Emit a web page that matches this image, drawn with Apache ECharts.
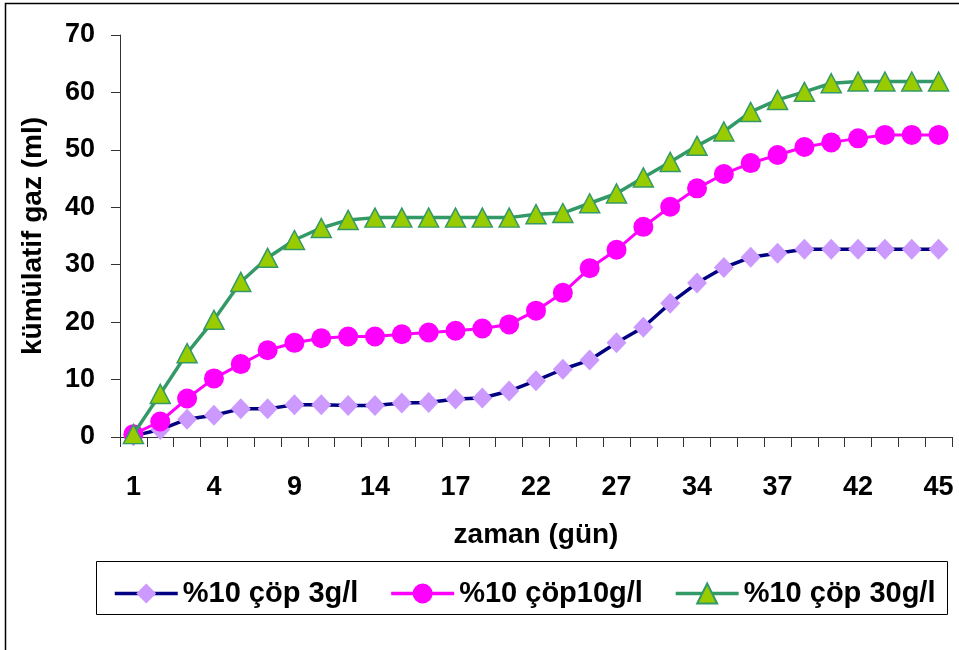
<!DOCTYPE html>
<html>
<head>
<meta charset="utf-8">
<script src="https://cdn.jsdelivr.net/npm/echarts@6/dist/echarts.min.js"></script>
<style>html,body{margin:0;padding:0;background:#fff;}#c{width:959px;height:650px;}</style>
</head>
<body>
<div id="c"></div>
<script>
const days = ['1','2','3','4','6','7','9','11','12','14','15','16','17','19','20','22','23','25','27','29','31','34','35','36','37','39','40','42','43','44','45'];
const s3 = [0.2,1.3,3.1,3.8,4.9,4.9,5.6,5.6,5.5,5.5,5.9,6.0,6.6,6.8,8.0,9.8,11.8,13.4,16.4,19.1,23.3,26.8,29.5,31.3,32.0,32.7,32.7,32.7,32.7,32.7,32.7];
const s10 = [0.5,2.7,6.7,10.2,12.7,15.1,16.4,17.2,17.5,17.5,17.9,18.2,18.5,18.9,19.6,22.0,25.1,29.4,32.6,36.6,40.1,43.3,45.8,47.7,49.1,50.5,51.3,52.0,52.6,52.6,52.6];
const s30 = [0.5,7.5,14.6,20.4,27.0,31.2,34.3,36.4,37.8,38.2,38.2,38.2,38.2,38.2,38.2,38.8,39.0,40.7,42.4,45.2,47.9,50.7,53.2,56.6,58.7,60.1,61.6,61.9,61.9,61.9,61.9];
const seriesNames = ['%10 çöp 3g/l','%10 çöp10g/l','%10 çöp 30g/l'];

const FONT = '"Liberation Sans", Arial, sans-serif';
const chart = echarts.init(document.getElementById('c'), null, {renderer:'canvas'});
chart.setOption({
  animation:false,
  backgroundColor:'#fff',
  grid:{left:120,right:7,top:35,bottom:213,containLabel:false},
  xAxis:{
    type:'category', data:days, boundaryGap:true,
    name:'zaman (gün)', nameLocation:'middle', nameGap:84,
    nameTextStyle:{fontFamily:FONT,fontWeight:'bold',fontSize:28,color:'#000'},
    axisLine:{lineStyle:{color:'#333',width:1}},
    axisTick:{show:true,interval:0,length:10,inside:false,lineStyle:{color:'#333'}},
    axisLabel:{interval:2,margin:37,fontFamily:FONT,fontWeight:'bold',fontSize:27,color:'#000'},
    splitLine:{show:false}
  },
  yAxis:{
    type:'value', min:0, max:70, interval:10,
    name:'kümülatif gaz (ml)', nameLocation:'middle', nameGap:73,
    nameTextStyle:{fontFamily:FONT,fontWeight:'bold',fontSize:28,color:'#000'},
    axisLine:{show:true,lineStyle:{color:'#333',width:1}},
    axisTick:{show:true,length:9,lineStyle:{color:'#333'}},
    axisLabel:{margin:25,fontFamily:FONT,fontWeight:'bold',fontSize:27,color:'#000'},
    splitLine:{show:false}
  },
  legend:{
    left:108, top:574, itemWidth:63, itemHeight:25, itemGap:31,
    lineStyle:{width:3.5},
    textStyle:{fontFamily:FONT,fontWeight:'bold',fontSize:29,color:'#000'},
    data:seriesNames
  },
  graphic:[
    {type:'rect',shape:{x:5.5,y:3.5,width:1000,height:700},style:{fill:'none',stroke:'#000',lineWidth:1.5},silent:true,z:-1},
    {type:'rect',shape:{x:96.5,y:561.5,width:851,height:53},style:{fill:'none',stroke:'#000',lineWidth:1},silent:true,z:-1}
  ],
  series:[
    {name:seriesNames[0],type:'line',data:s3,symbol:'diamond',symbolSize:[20,21],showAllSymbol:true,
     lineStyle:{color:'#000080',width:3.5},itemStyle:{color:'#CC99FF',borderWidth:0},z:2},
    {name:seriesNames[1],type:'line',data:s10,symbol:'circle',symbolSize:20,showAllSymbol:true,
     lineStyle:{color:'#FF00FF',width:3},itemStyle:{color:'#FF00FF',borderWidth:0},z:3},
    {name:seriesNames[2],type:'line',data:s30,symbol:'triangle',symbolSize:[20,19],showAllSymbol:true,
     lineStyle:{color:'#339966',width:3.5},itemStyle:{color:'#99CC00',borderColor:'#339966',borderWidth:1.5},z:4}
  ]
});
</script>
</body>
</html>
